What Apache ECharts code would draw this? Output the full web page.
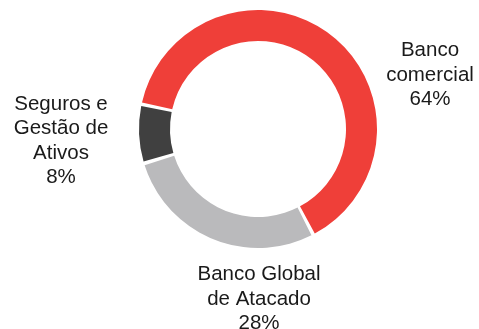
<!DOCTYPE html>
<html>
<head>
<meta charset="utf-8">
<script src="https://cdn.jsdelivr.net/npm/echarts@6/dist/echarts.min.js"></script>
<style>
html,body{margin:0;padding:0;background:#fff;}
#chart{width:479px;height:329px;}
</style>
</head>
<body>
<div id="chart"></div>
<script>
var categories = ['Banco\ncomercial', 'Banco Global\nde Atacado', 'Seguros e\nGestão de\nAtivos'];
var values = [64, 28, 8];
var colors = ['#EF3F39', '#BABABC', '#404040'];

var labelPos = [[430, 75], [259, 299], [61, 141]];

var chart = echarts.init(document.getElementById('chart'));
chart.setOption({
  animation: false,
  series: [{
    type: 'pie',
    center: [258, 129],
    radius: [88, 119],
    startAngle: 168,
    clockwise: true,
    padAngle: 1.8,
    data: categories.map(function (c, i) {
      return { name: c, value: values[i], itemStyle: { color: colors[i] } };
    }),
    label: {
      show: true,
      formatter: '{b}\n{c}%',
      fontFamily: 'Liberation Sans, Arial, sans-serif',
      fontSize: 20.5,
      lineHeight: 24.5,
      color: '#1a1a1a',
      align: 'center',
      overflow: 'none',
      width: 200
    },
    labelLine: { show: false },
    labelLayout: function (p) {
      var pos = labelPos[p.dataIndex];
      return { x: pos[0], y: pos[1], align: 'center', verticalAlign: 'middle' };
    },
    emphasis: { disabled: true }
  }]
});
</script>
</body>
</html>
